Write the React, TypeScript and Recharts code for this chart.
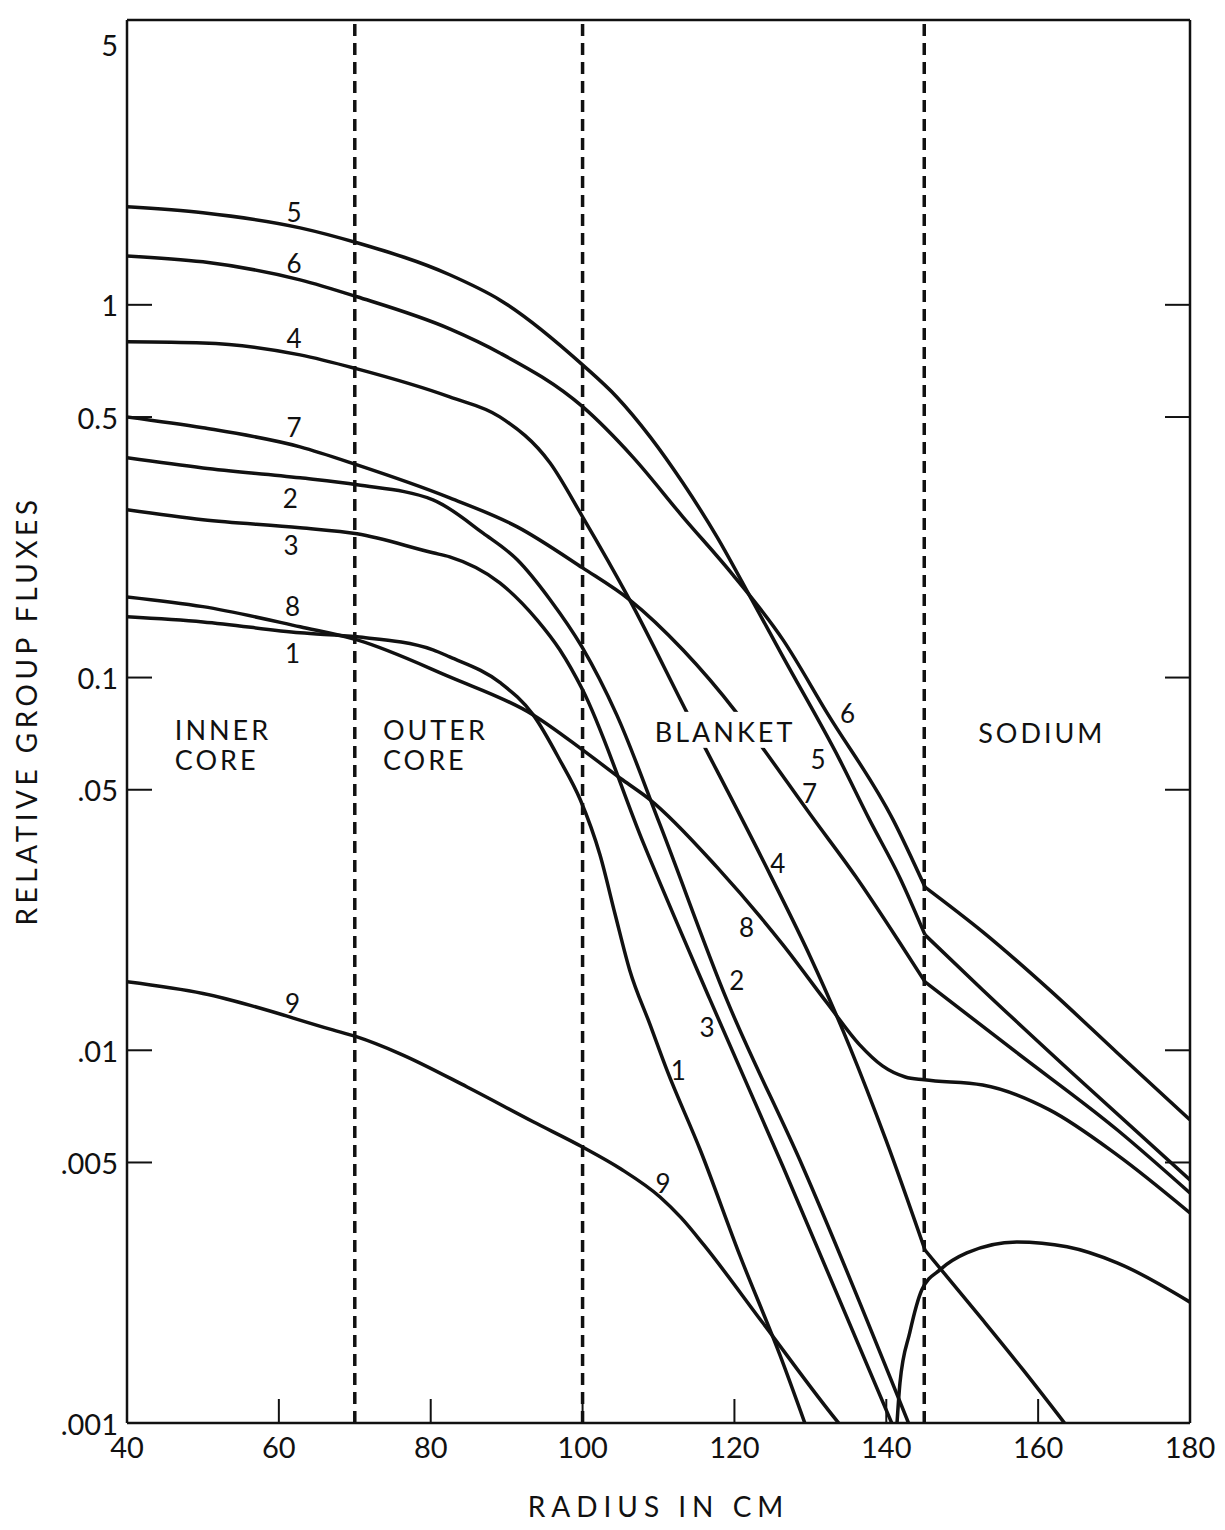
import {
  ComposedChart, Line, Scatter, XAxis, YAxis, ReferenceLine,
} from 'recharts';

type Pair = [number, number]; // [radius cm, relative flux]

const INK = '#111';
const FONT = "Lato, 'DejaVu Sans', sans-serif";

// group fluxes vs radius
const group1: Pair[] = [
  [40, 0.1455], [50, 0.141], [62.8, 0.1318], [70.3, 0.1286], [80.3, 0.1187], [82.5, 0.1136],
  [89.1, 0.097], [93.5, 0.0794], [97, 0.0601], [99.7, 0.047], [102.3, 0.0334], [104.3, 0.0231],
  [106.2, 0.01643], [108.9, 0.0117], [111.1, 0.00886], [115.5, 0.0054], [120.7, 0.00282],
  [126, 0.00152], [129.5, 0.00097],
];
const group2: Pair[] = [
  [40, 0.3886], [50, 0.365], [62.8, 0.3434], [70.3, 0.3289], [80.3, 0.2998], [86.9, 0.244],
  [91.4, 0.207], [95.7, 0.162], [99.9, 0.121], [104.5, 0.0794], [110.2, 0.0403], [119, 0.01365],
  [129, 0.00487], [143.1, 0.00098],
];
const group3: Pair[] = [
  [40, 0.2818], [50, 0.265], [62.8, 0.2522], [70.3, 0.243], [80.3, 0.2161], [82.5, 0.2108],
  [89.1, 0.1795], [94, 0.1428], [97, 0.1187], [100, 0.0927], [108, 0.036], [116.8, 0.01365],
  [126.4, 0.00487], [140.9, 0.00098],
];
const group4: Pair[] = [
  [40, 0.796], [50, 0.79], [62.8, 0.734], [70.3, 0.673], [82.5, 0.566], [89.1, 0.5005],
  [95.7, 0.377], [100, 0.27], [106.2, 0.1616], [113.7, 0.0809], [124.7, 0.0296], [130, 0.0178],
  [135.2, 0.0102], [140, 0.00571], [145.1, 0.00291], [152.7, 0.00189], [158, 0.00139],
  [163.8, 0.00098],
];
const group5: Pair[] = [
  [40, 1.832], [50, 1.766], [62.8, 1.609], [70.3, 1.467], [82.5, 1.204], [89.1, 1.031],
  [100, 0.69], [104.5, 0.566], [108.9, 0.4423], [113.2, 0.333], [117.7, 0.2385], [122.3, 0.1616],
  [126.4, 0.1136], [133.8, 0.0605], [137.8, 0.0415], [141.8, 0.029], [145.1, 0.0204],
  [152.7, 0.01452], [165.9, 0.00818], [180, 0.00449],
];
const group6: Pair[] = [
  [40, 1.353], [50, 1.304], [62.8, 1.167], [70.3, 1.051], [82.5, 0.862], [89.1, 0.743],
  [100, 0.533], [106.6, 0.391], [113.2, 0.27], [119.8, 0.1886], [126.4, 0.1262], [132.2, 0.0804],
  [140.9, 0.0415], [145.1, 0.0274], [152.7, 0.02078], [161.5, 0.01452], [170.4, 0.00985],
  [180, 0.00651],
];
const group7: Pair[] = [
  [40, 0.5005], [50, 0.468], [62.8, 0.4159], [70.3, 0.3721], [82.5, 0.3035], [91.4, 0.2537],
  [100, 0.1969], [106.2, 0.1616], [113.2, 0.1187], [120.3, 0.0804], [123.7, 0.0648], [130, 0.0429],
  [136, 0.0292], [141.8, 0.0194], [145.1, 0.01526], [157.2, 0.00985], [170.4, 0.00612],
  [180, 0.00414],
];
const group8: Pair[] = [
  [40, 0.1646], [50, 0.155], [62.8, 0.1368], [70.3, 0.1262], [82.5, 0.1004], [93.5, 0.0794],
  [100, 0.064], [105.3, 0.0531], [108.9, 0.047], [117.7, 0.031], [126.4, 0.01918], [132.2, 0.0134],
  [136.5, 0.01034], [139.5, 0.00908], [142.5, 0.00848], [145, 0.00833], [152.7, 0.00807],
  [161.5, 0.00692], [170.4, 0.00524], [180, 0.00366],
];
// group 9 falls below the scale in the blanket and comes back up in the sodium
const group9: Pair[] = [
  [40, 0.01526], [50, 0.0142], [67.1, 0.01134], [70.3, 0.01086], [75.9, 0.0098], [84.8, 0.00797],
  [93.5, 0.00643], [100, 0.0055], [105, 0.00481], [110.2, 0.00404], [113, 0.00355], [116, 0.003],
  [123.7, 0.00186], [133.9, 0.00099], [136, 0.00088],
];
const group9Sodium: Pair[] = [
  [140.8, 0.0006], [141.4, 0.00099], [141.8, 0.00128], [143.1, 0.00175], [144.7, 0.00228],
  [147.1, 0.00258], [150.6, 0.00286], [157.2, 0.00306], [163.8, 0.00297], [170.4, 0.00269],
  [180, 0.00211],
];

const groups = [
  { id: '1', points: group1 },
  { id: '2', points: group2 },
  { id: '3', points: group3 },
  { id: '4', points: group4 },
  { id: '5', points: group5 },
  { id: '6', points: group6 },
  { id: '7', points: group7 },
  { id: '8', points: group8 },
  { id: '9', points: group9 },
  { id: '9s', points: group9Sodium },
];

// zone interfaces: inner/outer core, core/blanket, blanket/sodium
const boundaries = [70, 100, 145];
// curves that break slope at the blanket/sodium interface carry a point here
const KINK = 145.1;

const radiusTicks = [40, 60, 80, 100, 120, 140, 160, 180];
const fluxTicks = [0.001, 0.005, 0.01, 0.05, 0.1, 0.5, 1, 5];
const fluxTickText = ['.001', '.005', '.01', '.05', '0.1', '0.5', '1', '5'];
const fluxTickMarks = [0.005, 0.01, 0.05, 0.1, 0.5, 1];

const curveNumbers = [
  { r: 62, flux: 1.776, text: '5' },
  { r: 62, flux: 1.296, text: '6' },
  { r: 62, flux: 0.8157, text: '4' },
  { r: 62, flux: 0.4708, text: '7' },
  { r: 61.5, flux: 0.3035, text: '2' },
  { r: 61.6, flux: 0.227, text: '3' },
  { r: 61.8, flux: 0.1557, text: '8' },
  { r: 61.8, flux: 0.1165, text: '1' },
  { r: 61.8, flux: 0.0134, text: '9' },
  { r: 134.9, flux: 0.0804, text: '6' },
  { r: 131, flux: 0.0605, text: '5' },
  { r: 129.9, flux: 0.049, text: '7' },
  { r: 125.7, flux: 0.0318, text: '4' },
  { r: 121.6, flux: 0.0214, text: '8' },
  { r: 120.3, flux: 0.01545, text: '2' },
  { r: 116.4, flux: 0.01156, text: '3' },
  { r: 112.6, flux: 0.00886, text: '1' },
  { r: 110.6, flux: 0.0044, text: '9' },
];

const regionNames = [
  { r: 46.3, flux: 0.0724, lines: ['INNER', 'CORE'] },
  { r: 73.7, flux: 0.0724, lines: ['OUTER', 'CORE'] },
  { r: 109.5, flux: 0.0715, lines: ['BLANKET'] },
  { r: 152.1, flux: 0.0712, lines: ['SODIUM'] },
];

const toPoints = (pairs: Pair[]) => pairs.map(([r, flux]) => ({ r, flux }));

// split a curve at the interface so the spline keeps the corner there
function segments(points: Pair[]): Pair[][] {
  const i = points.findIndex(([r]) => r === KINK);
  if (i < 0) return [points];
  return [points.slice(0, i + 1), points.slice(i)];
}

const textStyle = { fontFamily: FONT, fill: INK };

function LeftTick({ x, y, payload }: any) {
  const i = fluxTicks.indexOf(payload.value);
  return (
    <g>
      {fluxTickMarks.includes(payload.value) && (
        <line x1={x} x2={x + 25} y1={y} y2={y} stroke={INK} strokeWidth={2} />
      )}
      <text x={x - 9} y={y} textAnchor="end" dominantBaseline="central" fontSize={29} {...textStyle}>
        {fluxTickText[i]}
      </text>
    </g>
  );
}

function RightTick({ x, y, payload }: any) {
  if (!fluxTickMarks.includes(payload.value)) return <g />;
  return <line x1={x} x2={x - 25} y1={y} y2={y} stroke={INK} strokeWidth={2} />;
}

function BottomTick({ x, y, payload }: any) {
  const edge = payload.value === 40 || payload.value === 180;
  return (
    <g>
      {!edge && <line x1={x} x2={x} y1={y} y2={y - 24} stroke={INK} strokeWidth={2} />}
      <text x={x} y={y + 35} textAnchor="middle" fontSize={29} {...textStyle}>
        {payload.value}
      </text>
    </g>
  );
}

function TopTick({ x, y, payload }: any) {
  if (payload.value === 40 || payload.value === 180) return <g />;
  return <line x1={x} x2={x} y1={y} y2={y + 27} stroke={INK} strokeWidth={2} />;
}

function XTitle({ viewBox }: any) {
  const { x, y, width } = viewBox;
  return (
    <text x={x + width / 2} y={y + 94} textAnchor="middle" fontSize={28} letterSpacing={6} {...textStyle}>
      RADIUS IN CM
    </text>
  );
}

function YTitle({ viewBox }: any) {
  const { x, y, height } = viewBox;
  const cx = x + 18;
  const cy = y + height / 2 - 11;
  return (
    <text
      x={cx}
      y={cy}
      transform={`rotate(-90 ${cx} ${cy})`}
      textAnchor="middle"
      dominantBaseline="central"
      fontSize={28}
      letterSpacing={4.5}
      {...textStyle}
    >
      RELATIVE GROUP FLUXES
    </text>
  );
}

function CurveNumber({ cx, cy, payload }: any) {
  return (
    <text x={cx} y={cy} textAnchor="middle" dominantBaseline="central" fontSize={26} {...textStyle}>
      {payload.text}
    </text>
  );
}

// zone names sit on a white plate so crossing curves are broken around them
function RegionName({ cx, cy, payload }: any) {
  const lines: string[] = payload.lines;
  const w = Math.max(...lines.map((s) => s.length)) * 21;
  return (
    <g>
      <rect x={cx - 8} y={cy - 20} width={w + 16} height={(lines.length - 1) * 30 + 36} fill="#fff" />
      {lines.map((s, i) => (
        <text
          key={s}
          x={cx}
          y={cy + i * 30}
          dominantBaseline="central"
          fontSize={27}
          letterSpacing={3}
          {...textStyle}
        >
          {s}
        </text>
      ))}
    </g>
  );
}

export default function App() {
  return (
    <ComposedChart
      width={1209}
      height={1514}
      margin={{
        top: 0, right: 0, left: 0, bottom: 0,
      }}
    >
      <XAxis
        xAxisId="r"
        dataKey="r"
        type="number"
        domain={[40, 180]}
        ticks={radiusTicks}
        interval={0}
        allowDataOverflow
        height={99}
        tickSize={0}
        tickMargin={0}
        tickLine={false}
        axisLine={{ stroke: INK, strokeWidth: 2.5 }}
        tick={<BottomTick />}
        label={<XTitle />}
      />
      <XAxis
        xAxisId="rTop"
        orientation="top"
        type="number"
        domain={[40, 180]}
        ticks={radiusTicks}
        interval={0}
        allowDataOverflow
        height={12}
        tickSize={0}
        tickMargin={0}
        tickLine={false}
        axisLine={{ stroke: INK, strokeWidth: 2.5 }}
        tick={<TopTick />}
      />
      <YAxis
        yAxisId="flux"
        dataKey="flux"
        type="number"
        scale="log"
        domain={[0.001, 5.81]}
        ticks={fluxTicks}
        interval={0}
        allowDataOverflow
        width={119}
        tickSize={0}
        tickMargin={0}
        tickLine={false}
        axisLine={{ stroke: INK, strokeWidth: 2.5 }}
        tick={<LeftTick />}
        label={<YTitle />}
      />
      <YAxis
        yAxisId="fluxRight"
        orientation="right"
        type="number"
        scale="log"
        domain={[0.001, 5.81]}
        ticks={fluxTicks}
        interval={0}
        allowDataOverflow
        width={27}
        tickSize={0}
        tickMargin={0}
        tickLine={false}
        axisLine={{ stroke: INK, strokeWidth: 2.5 }}
        tick={<RightTick />}
      />

      {boundaries.map((b) => (
        <ReferenceLine
          key={b}
          x={b}
          xAxisId="r"
          yAxisId="flux"
          stroke={INK}
          strokeWidth={3.5}
          strokeDasharray="12 7"
        />
      ))}

      {groups.flatMap((g) => segments(g.points).map((seg, k) => (
        <Line
          key={`${g.id}-${k}`}
          data={toPoints(seg)}
          dataKey="flux"
          xAxisId="r"
          yAxisId="flux"
          type="monotone"
          stroke={INK}
          strokeWidth={3.5}
          dot={false}
          activeDot={false}
          isAnimationActive={false}
        />
      )))}

      <Scatter
        data={regionNames}
        dataKey="flux"
        xAxisId="r"
        yAxisId="flux"
        shape={<RegionName />}
        isAnimationActive={false}
      />
      <Scatter
        data={curveNumbers}
        dataKey="flux"
        xAxisId="r"
        yAxisId="flux"
        shape={<CurveNumber />}
        isAnimationActive={false}
      />
    </ComposedChart>
  );
}
